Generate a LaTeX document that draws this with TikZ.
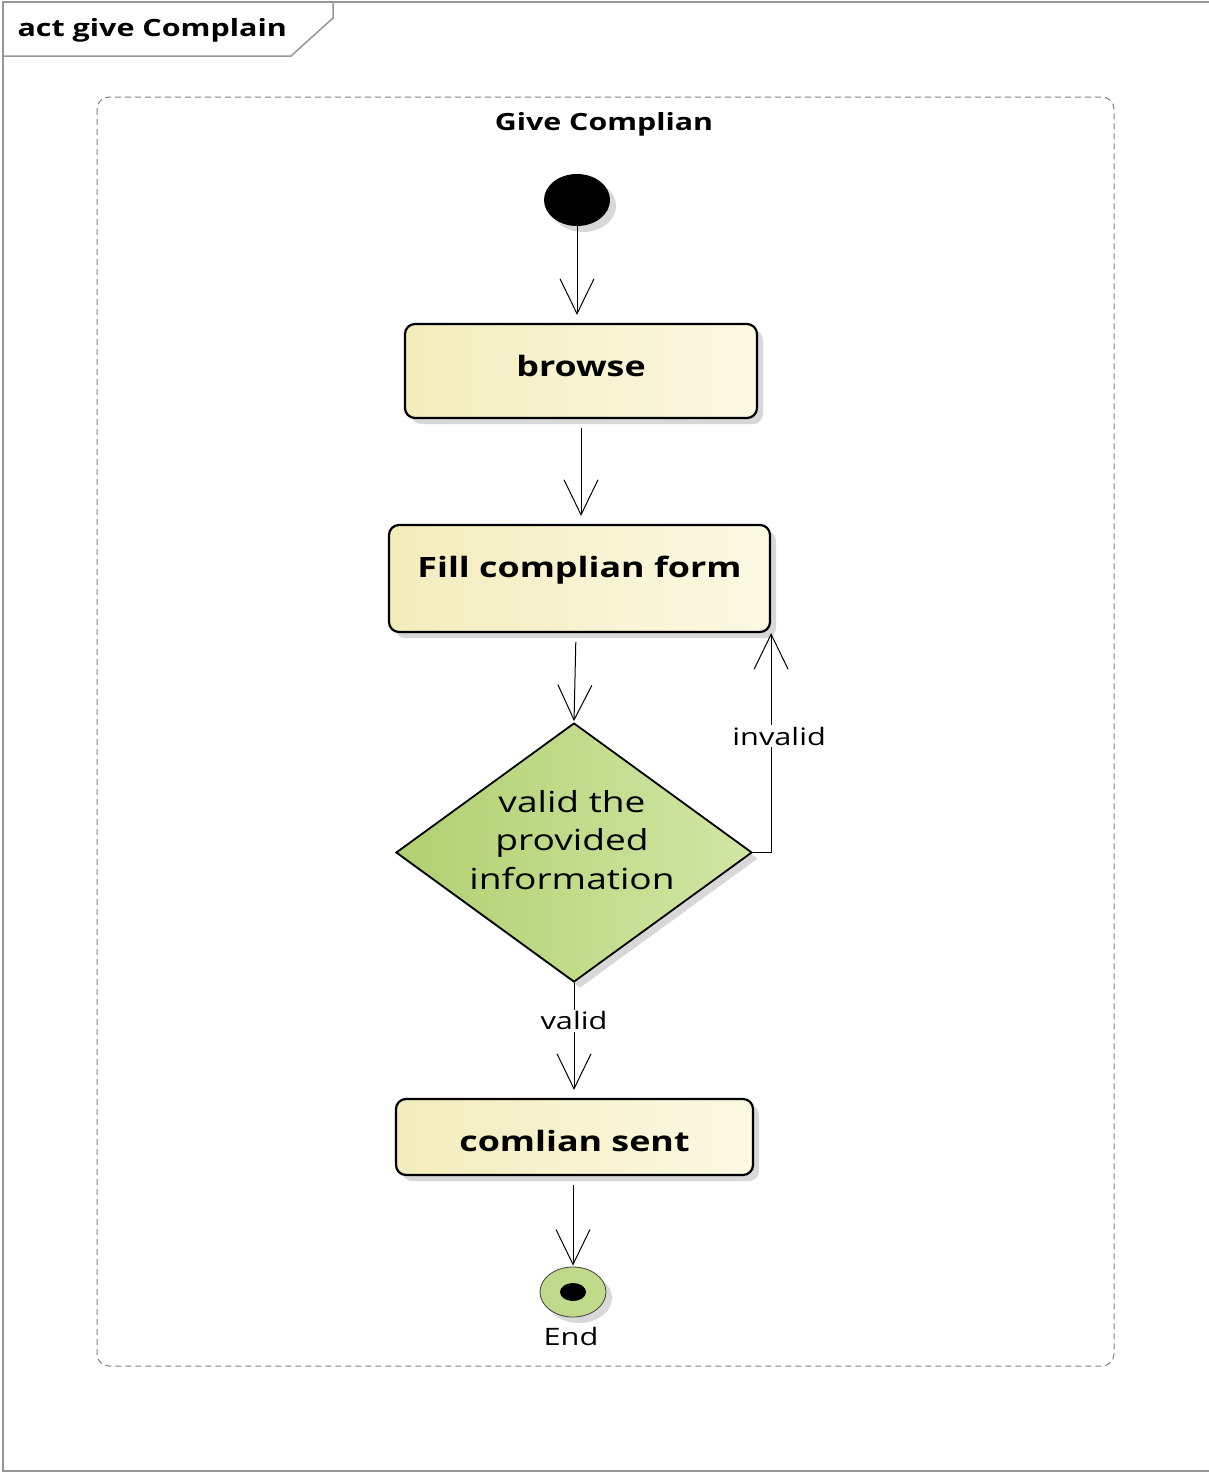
\documentclass[tikz,border=0pt]{standalone}
\usepackage{fontspec}
\setmainfont{Open Sans}[FakeStretch=1.28]
\usetikzlibrary{arrows.meta,shapes.geometric,shadows}

\definecolor{actL}{RGB}{243,236,188}
\definecolor{actR}{RGB}{252,249,228}
\definecolor{decL}{RGB}{176,208,112}
\definecolor{decR}{RGB}{210,230,165}
\definecolor{finalfill}{RGB}{190,218,138}
\definecolor{framegray}{RGB}{150,150,150}

\begin{document}
\begin{tikzpicture}[x=1pt,y=-1pt,
  softshadow/.style={drop shadow={shadow xshift=6pt, shadow yshift=-6pt, fill=black!30, opacity=0.5}},
  action/.style={draw=black, line width=2.2pt, rounded corners=10pt,
    left color=actL, right color=actR, softshadow,
    font=\bfseries\fontsize{28}{33}\selectfont, inner sep=0pt},
  decision/.style={diamond, draw=black, line width=1.8pt,
    left color=decL, right color=decR, softshadow, inner sep=0pt},
  flow/.style={draw=black, line width=1pt,
    -{Straight Barb[length=35pt,width=34pt]}},
  guard/.style={fill=white, font=\fontsize{24}{28}\selectfont, inner sep=2pt},
  framebox/.style={draw=gray, line width=1pt, dash pattern=on 6pt off 4pt, rounded corners=12pt},
]
\useasboundingbox (0,0) rectangle (1209,1473);

% diagram frame with its name tab
\draw[framegray, line width=2pt] (1209,2) -- (3,2) -- (3,1471) -- (1209,1471);
\draw[framegray, line width=1.5pt] (333,2) -- (333,18) -- (291,56) -- (3,56);
\node[anchor=west, font=\bfseries\fontsize{23.8}{28}\selectfont] (title) at (14,30) {act give Complain};

% activity boundary
\draw[framebox] (97,97) rectangle (1114,1366);
\node[font=\bfseries\fontsize{23.7}{28}\selectfont] (acttitle) at (604,124) {Give Complian};

% nodes
\node[ellipse, fill=black, minimum width=66pt, minimum height=52pt, inner sep=0pt, softshadow] (start) at (577,200) {};
\node[action, minimum width=352pt, minimum height=94pt] (browse) at (581,371) {\raisebox{10pt}{browse}};
\node[action, minimum width=381pt, minimum height=107pt] (fill) at (579.5,578.5) {\raisebox{23pt}{Fill complian form}};
\node[decision, minimum width=356pt, minimum height=259pt] (check) at (574,852.5) {};
\node[align=center, font=\fontsize{29}{38.5}\selectfont] (checktext) at (572,840) {valid the\\provided\\information};
\node[action, minimum width=357pt, minimum height=76pt] (sent) at (574.5,1137) {\raisebox{-4pt}[\height][\depth]{comlian sent}};
\node[ellipse, draw=black!75, line width=0.8pt, fill=finalfill, minimum width=66pt, minimum height=50pt, inner sep=0pt, softshadow] (final) at (573,1292) {};
\node[ellipse, fill=black, minimum width=26pt, minimum height=18pt, inner sep=0pt] (finaldot) at (final.center) {};
\node[font=\fontsize{24}{28}\selectfont] (endlabel) at (571,1336) {End};

% control flows
\draw[flow, shorten >=8pt] (start.south) -- (start.south |- browse.north);
\draw[flow, shorten <=9pt, shorten >=8pt] (browse.south) -- (browse.south |- fill.north);
\draw[flow, shorten <=9pt, shorten >=1pt] ([xshift=-3.5pt]fill.south) -- (check.north);
\draw[flow] (check.east) -| node[guard, pos=0.765, xshift=8pt] {invalid} (fill.south east);
\draw[flow, shorten >=8pt] (check.south) -- node[guard, pos=0.33] {valid} (check.south |- sent.north);
\draw[flow, shorten <=9pt, shorten >=1pt] (final.north |- sent.south) -- (final.north);
\end{tikzpicture}
\end{document}
